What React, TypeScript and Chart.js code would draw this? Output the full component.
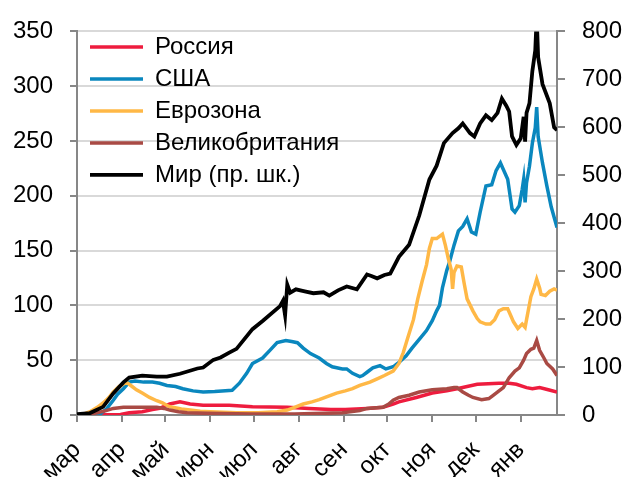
import React, { useEffect, useRef } from "react";
import { Chart, registerables } from "chart.js";

Chart.register(...registerables);

// X axis: days since 1 March 2020
const monthLabels = ["мар", "апр", "май", "июн", "июл", "авг", "сен", "окт", "ноя", "дек", "янв"];
const monthStartDays = [0, 31, 61, 92, 122, 153, 184, 214, 245, 275, 306];
const dayMin = 0;
const dayMax = 331;

const leftTicks = [0, 50, 100, 150, 200, 250, 300, 350];
const rightTicks = [0, 100, 200, 300, 400, 500, 600, 700, 800];

const seriesNames = ["Россия", "США", "Еврозона", "Великобритания", "Мир (пр. шк.)"];

const russiaDays = [0, 30, 36, 45, 52, 57, 64, 71, 78, 87, 105, 121, 145, 160, 175, 185, 200, 211, 218, 222, 234, 245, 255, 262, 276, 291, 298, 303, 310, 314, 319, 325, 331];
const russiaValues = [0, 0.5, 2, 3, 5, 6, 10, 12, 10, 9, 9, 7.5, 7, 6, 5, 5, 6, 7, 10, 12, 16, 20, 22, 24, 28, 29, 29, 28, 25, 24, 25, 23, 21];

const usDays = [0, 12, 16, 20, 25, 28, 32, 36, 40, 46, 52, 57, 62, 68, 73, 80, 87, 95, 100, 107, 112, 117, 121, 128, 133, 138, 144, 148, 152, 156, 161, 167, 172, 176, 183, 186, 190, 195, 197, 200, 204, 209, 213, 218, 222, 227, 231, 236, 241, 245, 248, 250, 252, 255, 257, 260, 263, 266, 269, 272, 275, 278, 282, 286, 289, 292, 294, 297, 300, 302, 305, 307, 308, 309, 310, 312, 314, 316, 317, 318, 321, 324, 327, 331];
const usValues = [0, 0.5, 1, 5, 13.5, 19, 24, 30, 31, 30, 30, 29, 27, 26, 24, 22, 21, 21.5, 22, 22.5, 29, 38, 47, 52, 59, 66, 68, 67, 66, 61, 56, 52, 47, 44, 42, 42, 38, 35, 36, 39, 43, 45, 42, 44, 48, 54, 61, 69, 77, 86, 95, 100, 116, 132, 140, 155, 168, 172, 179, 167, 165, 185, 209, 210, 223, 230, 224, 215, 188, 185, 191, 206, 215, 194, 212, 227, 248, 262, 281, 254, 230, 209, 190, 171];

const euroDays = [0, 5, 9, 14, 18, 22, 25, 29, 33, 35, 38, 41, 45, 50, 55, 59, 63, 66, 72, 78, 85, 92, 110, 125, 138, 145, 150, 156, 162, 167, 173, 179, 185, 190, 195, 202, 207, 212, 218, 222, 225, 228, 232, 235, 238, 241, 243, 245, 248, 250, 252, 254, 256, 258, 259, 260, 262, 265, 267, 269, 273, 276, 278, 282, 285, 288, 291, 294, 297, 299, 301, 304, 307, 309, 310, 313, 315, 317, 319, 320, 323, 326, 329, 331];
const euroValues = [0, 1, 3, 7, 11, 16, 21, 26, 29, 29, 26, 23, 20, 16, 13, 11, 8, 7, 5.5, 4.5, 3.5, 3, 2, 2, 3, 4.5, 7, 10, 12, 14, 17, 20, 22, 24, 27, 30, 33, 36, 40, 47, 57, 70, 87, 106, 122, 137, 152, 161, 161, 163, 165, 155, 143, 133, 115, 130, 136, 135, 120, 106, 95, 88, 85, 83, 83, 87, 95, 97, 97, 91, 85, 79, 83, 80, 87, 108, 115, 124, 116, 110, 109, 113, 115, 114];

const ukDays = [0, 10, 14, 20, 25, 32, 41, 50, 55, 60, 64, 70, 76, 90, 120, 150, 170, 183, 195, 200, 211, 215, 218, 222, 229, 236, 245, 255, 260, 262, 266, 270, 273, 279, 284, 287, 291, 294, 298, 302, 305, 308, 310, 313, 315, 317, 319, 322, 324, 328, 331];
const ukValues = [0, 1, 2, 4, 6, 7, 7, 7, 7, 6, 4.5, 3, 2, 1.5, 1, 1, 1.5, 2, 4, 6, 7, 10, 13.5, 16, 18, 21, 23, 24, 25, 25, 21, 18, 16, 14, 15, 18, 22, 25, 34, 40, 43, 50, 56, 60, 61, 68, 59, 52, 47, 42, 36];

const worldDays = [0, 9, 18, 25, 32, 36, 45, 55, 62, 71, 83, 87, 94, 99, 105, 110, 121, 128, 140, 142, 143.5, 145, 147, 151, 157, 163, 170, 174, 180, 186, 193, 200, 203, 207, 212, 216, 222, 229, 236, 243, 248, 253, 259, 263, 266, 271, 274, 278, 282, 286, 290, 293, 296, 298, 300, 303, 306, 308, 309, 310, 312, 314, 316, 317, 318, 321, 326, 329, 331];
const worldValues = [2, 4, 17, 45, 68, 78, 82, 80, 80, 86, 97, 99, 115, 120, 130, 138, 179, 196, 227, 238, 208, 272, 255, 262, 258, 254, 256, 249, 260, 268, 262, 293, 290, 285, 292, 295, 330, 355, 416, 491, 520, 567, 588, 598, 608, 588, 581, 608, 625, 615, 630, 660, 645, 633, 581, 563, 577, 622, 570, 630, 650, 717, 760, 830, 746, 690, 650, 600, 594];

const seriesColors = ["#EE1C3E", "#0A87BE", "#FFB846", "#A94A44", "#000000"];

const FONT = "'Liberation Sans', Arial, sans-serif";
const AXIS_GREY = "#878787";
const GRID_GREY = "#D9D9D9";

function toPoints(days: number[], values: number[]) {
  return days.map((d, i) => ({ x: d, y: values[i] }));
}

export default function App() {
  const canvasRef = useRef<HTMLCanvasElement | null>(null);

  useEffect(() => {
    const canvas = canvasRef.current;
    if (!canvas) return;
    const series = [
      { days: russiaDays, values: russiaValues, axis: "yL", order: 4 },
      { days: usDays, values: usValues, axis: "yL", order: 3 },
      { days: euroDays, values: euroValues, axis: "yL", order: 2 },
      { days: ukDays, values: ukValues, axis: "yL", order: 1 },
      { days: worldDays, values: worldValues, axis: "yR", order: 0 },
    ];
    const legendNudge = {
      id: "legendNudge",
      afterLayout(chart: any) {
        const lg = chart.legend;
        if (lg) {
          const ca = chart.chartArea;
          lg.left = ca.left + 5;
          lg.right = ca.right;
          lg.top = ca.top - 4.5;
          lg.bottom = ca.bottom;
        }
      },
    };
    const chart = new Chart(canvas, {
      type: "line",
      data: {
        datasets: series.map((s, i) => ({
          label: seriesNames[i],
          data: toPoints(s.days, s.values),
          yAxisID: s.axis,
          order: s.order,
          borderColor: seriesColors[i],
          backgroundColor: seriesColors[i],
          borderWidth: i === 4 ? 3.8 : 3.5,
          pointRadius: 0,
          tension: 0,
          fill: false,
        })),
      },
      options: {
        animation: false,
        responsive: false,
        maintainAspectRatio: false,
        layout: { padding: { top: 27, left: 0, right: 0, bottom: 0 } },
        plugins: {
          tooltip: { enabled: false },
          legend: {
            position: "chartArea",
            align: "start",
            labels: {
              usePointStyle: true,
              pointStyle: "line",
              pointStyleWidth: 53,
              padding: 8,
              color: "#000",
              font: { family: FONT, size: 24 },
              sort: (a: any, b: any) => a.datasetIndex - b.datasetIndex,
            },
          },
        },
        scales: {
          x: {
            type: "linear",
            min: dayMin,
            max: dayMax,
            afterBuildTicks: (scale: any) => {
              scale.ticks = monthStartDays.map((v) => ({ value: v }));
            },
            afterFit: (scale: any) => {
              scale.height = 62;
            },
            ticks: {
              autoSkip: false,
              minRotation: 45,
              maxRotation: 45,
              padding: 14,
              color: "#000",
              font: { family: FONT, size: 24 },
              callback: (_v: any, idx: number) => monthLabels[idx],
            },
            grid: {
              drawOnChartArea: false,
              drawTicks: true,
              tickLength: 7,
              tickColor: AXIS_GREY,
              lineWidth: 2,
              color: AXIS_GREY,
            },
            border: { color: AXIS_GREY, width: 2 },
          },
          yL: {
            type: "linear",
            position: "left",
            min: 0,
            max: 350,
            afterBuildTicks: (scale: any) => {
              scale.ticks = leftTicks.map((v) => ({ value: v }));
            },
            afterFit: (scale: any) => {
              scale.width = 77;
            },
            ticks: {
              padding: 17,
              color: "#000",
              font: { family: FONT, size: 24 },
            },
            grid: {
              color: GRID_GREY,
              lineWidth: 2,
              tickLength: 7,
              tickColor: AXIS_GREY,
            },
            border: { color: AXIS_GREY, width: 2 },
          },
          yR: {
            type: "linear",
            position: "right",
            min: 0,
            max: 800,
            afterBuildTicks: (scale: any) => {
              scale.ticks = rightTicks.map((v) => ({ value: v }));
            },
            afterFit: (scale: any) => {
              scale.width = 70;
            },
            ticks: {
              padding: 17,
              color: "#000",
              font: { family: FONT, size: 24 },
            },
            grid: {
              drawOnChartArea: false,
              tickLength: 8,
              tickColor: AXIS_GREY,
              lineWidth: 2,
            },
            border: { color: AXIS_GREY, width: 2 },
          },
        },
      },
      plugins: [legendNudge],
    } as any);
    return () => chart.destroy();
  }, []);

  return (
    <div style={{ position: "fixed", left: 0, top: 0, width: 627, height: 477, background: "#fff", overflow: "hidden" }}>
      <canvas ref={canvasRef} width={627} height={477} style={{ display: "block" }} />
    </div>
  );
}
